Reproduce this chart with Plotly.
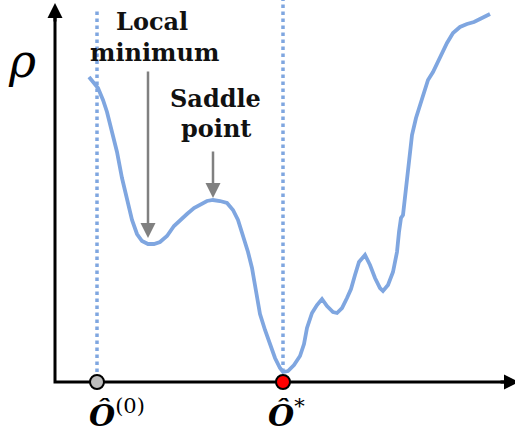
import plotly.graph_objects as go

# Loss landscape rho(theta) along one parameter direction
theta = [0.34, 0.38, 0.43, 0.48, 0.52, 0.57, 0.62, 0.67, 0.72, 0.77, 0.82, 0.87, 0.93, 0.99,
         1.05, 1.12, 1.19, 1.25, 1.32, 1.39, 1.45, 1.52, 1.58, 1.65, 1.72, 1.78, 1.83, 1.88,
         1.93, 1.97, 2.01, 2.05, 2.10, 2.15, 2.20, 2.25, 2.28, 2.33, 2.39, 2.45, 2.49, 2.52,
         2.57, 2.62, 2.67, 2.72, 2.78, 2.82, 2.87, 2.92, 2.96, 3.00, 3.04, 3.10, 3.15, 3.20,
         3.25, 3.28, 3.33, 3.38, 3.42, 3.44, 3.46, 3.48, 3.50, 3.53, 3.57, 3.61, 3.65, 3.69,
         3.73, 3.78, 3.82, 3.87, 3.92, 3.98, 4.05, 4.12, 4.19, 4.25, 4.31, 4.35]
rho = [3.05, 3.00, 2.94, 2.82, 2.70, 2.50, 2.30, 2.04, 1.82, 1.62, 1.48, 1.41, 1.38, 1.38,
       1.40, 1.46, 1.56, 1.62, 1.68, 1.74, 1.77, 1.81, 1.82, 1.81, 1.79, 1.72, 1.62, 1.46,
       1.30, 1.14, 0.92, 0.68, 0.52, 0.37, 0.24, 0.14, 0.10, 0.11, 0.17, 0.26, 0.38, 0.54,
       0.69, 0.77, 0.83, 0.76, 0.70, 0.69, 0.74, 0.84, 0.93, 1.07, 1.20, 1.27, 1.17, 1.04,
       0.94, 0.91, 0.97, 1.10, 1.30, 1.50, 1.64, 1.67, 1.85, 2.17, 2.47, 2.64, 2.76, 2.89,
       3.02, 3.10, 3.18, 3.30, 3.39, 3.49, 3.55, 3.58, 3.60, 3.63, 3.66, 3.68]

theta_init = 0.42      # starting estimate O^(0)
theta_opt = 2.28       # global optimum O*
rho_opt = 0.10
local_min = (0.93, 1.44)
saddle = (1.58, 1.84)

X_MAX, Y_MAX = 4.64, 3.79

BLUE = "#7fa6e0"
GRAY = "#808080"
SERIF = "DejaVu Serif"
TEXT_FONT = dict(family=SERIF, size=24, color="#111111")

fig = go.Figure()

# axis lines (drawn first so the point markers sit on top)
fig.add_trace(go.Scatter(x=[0, 0, X_MAX - 0.1], y=[Y_MAX - 0.1, 0, 0], mode="lines",
                         line=dict(color="black", width=3), hoverinfo="skip"))

# dotted guide lines at the start point and the optimum
fig.add_trace(go.Scatter(x=[theta_init, theta_init], y=[0.03, 3.74], mode="lines",
                         line=dict(color=BLUE, width=3.5, dash="dot"), hoverinfo="skip"))
fig.add_trace(go.Scatter(x=[theta_opt, theta_opt], y=[rho_opt, 3.82], mode="lines",
                         line=dict(color=BLUE, width=3.5, dash="dot"), hoverinfo="skip"))

# the landscape curve
fig.add_trace(go.Scatter(x=theta, y=rho, mode="lines",
                         line=dict(color=BLUE, width=3.8), hoverinfo="skip"))

# arrowheads at the axis ends
for (x0, y0, x1, y1) in [(0, Y_MAX - 0.2, 0, Y_MAX), (X_MAX - 0.2, 0, X_MAX, 0)]:
    fig.add_annotation(x=x1, y=y1, ax=x0, ay=y0, xref="x", yref="y", axref="x", ayref="y",
                       text="", showarrow=True, arrowhead=2, arrowsize=1.0, arrowwidth=3,
                       arrowcolor="black", standoff=0, startstandoff=0)

# markers on the theta axis
fig.add_trace(go.Scatter(x=[theta_init], y=[0], mode="markers",
                         marker=dict(size=14, color="#bdbdbd", line=dict(color="black", width=2)),
                         hoverinfo="skip"))
fig.add_trace(go.Scatter(x=[theta_opt], y=[0], mode="markers",
                         marker=dict(size=14, color="#ff0000", line=dict(color="black", width=2)),
                         hoverinfo="skip"))

# pointer arrows for the local minimum and the saddle point
fig.add_annotation(x=local_min[0], y=local_min[1], ax=local_min[0], ay=3.12,
                   xref="x", yref="y", axref="x", ayref="y", text="", showarrow=True,
                   arrowhead=2, arrowsize=1.2, arrowwidth=2.5, arrowcolor=GRAY, standoff=0)
fig.add_annotation(x=saddle[0], y=saddle[1], ax=saddle[0], ay=2.32,
                   xref="x", yref="y", axref="x", ayref="y", text="", showarrow=True,
                   arrowhead=2, arrowsize=1.2, arrowwidth=2.5, arrowcolor=GRAY, standoff=0)

# labels
labels = [("<b>Local</b>", 0.97, 3.61), ("<b>minimum</b>", 0.99, 3.30),
          ("<b>Saddle</b>", 1.60, 2.84), ("<b>point</b>", 1.61, 2.54)]
for txt, x, y in labels:
    fig.add_annotation(x=x, y=y, xref="x", yref="y", text=txt, showarrow=False,
                       font=TEXT_FONT, xanchor="center", yanchor="middle")

fig.add_annotation(x=-0.33, y=3.21, xref="x", yref="y", text="<i>ρ</i>", showarrow=False,
                   font=dict(family=SERIF, size=46, color="black"),
                   xanchor="center", yanchor="middle")
fig.add_annotation(x=0.32, y=-0.31, xref="x", yref="y", text="<i><b>Ô</b></i><sup>(0)</sup>",
                   showarrow=False, font=dict(family=SERIF, size=30, color="black"),
                   xanchor="left", yanchor="middle")
fig.add_annotation(x=2.11, y=-0.31, xref="x", yref="y", text="<i><b>Ô</b></i><sup>*</sup>",
                   showarrow=False, font=dict(family=SERIF, size=30, color="black"),
                   xanchor="left", yanchor="middle")

fig.update_layout(
    width=515, height=432, margin=dict(l=0, r=0, t=0, b=0),
    paper_bgcolor="white", plot_bgcolor="white", showlegend=False,
    xaxis=dict(range=[-0.55, 4.60], visible=False, fixedrange=True),
    yaxis=dict(range=[-0.50, 3.82], visible=False, fixedrange=True),
)

fig.write_html("out.html")
